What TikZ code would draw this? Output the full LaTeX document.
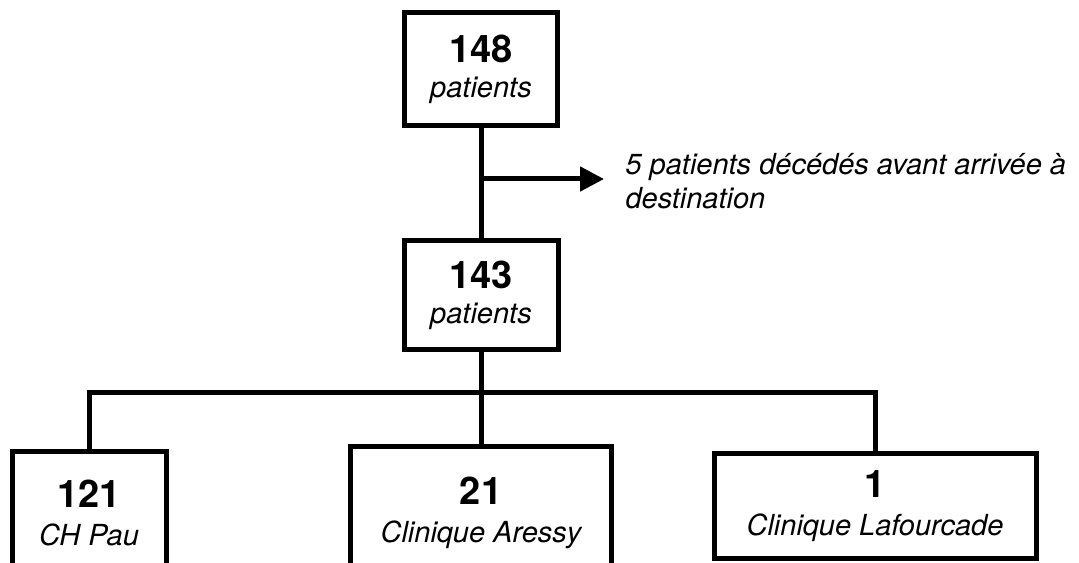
\documentclass[tikz,border=0pt]{standalone}
\usepackage{fontspec}
\setmainfont{TeX Gyre Heros}
\usetikzlibrary{arrows.meta}
\newcommand{\numfont}{\fontsize{28.5pt}{26.25pt}\selectfont\bfseries\upshape}

\begin{document}
\begin{tikzpicture}[x=0.75pt, y=-0.75pt, line width=3.75pt,
  box/.style={draw, rectangle, inner sep=0pt, align=center,
    font=\fontsize{21.75pt}{26.25pt}\selectfont\itshape},
  sitebox/.style={box, font=\fontsize{21.75pt}{28.5pt}\selectfont\itshape}]
\useasboundingbox (0,0) rectangle (1079,563);
\clip (0,0) rectangle (1079,563);
% boxes
\node[box, minimum width=115pt, minimum height=85pt] (start) at (481,69) {{\numfont 148}\\patients};
\node[box, minimum width=115.5pt, minimum height=81pt] (arrived) at (481,295) {{\numfont 143}\\patients};
\node[anchor=west, inner sep=0pt, align=left,
  font=\fontsize{21.75pt}{25.5pt}\selectfont\itshape] (deaths) at (623,181)
  {5 patients décédés avant arrivée à\\destination};
\node[sitebox, minimum width=115.5pt, minimum height=93pt] (pau) at (89,513) {{\numfont 121}\\CH Pau};
\node[sitebox, minimum width=196pt, minimum height=100pt] (aressy) at (481,513) {{\numfont 21}\\Clinique Aressy};
\node[sitebox, minimum width=241.5pt, minimum height=79pt] (lafourcade) at (875,506) {{\numfont 1}\\Clinique Lafourcade};
% connectors
\coordinate (fork) at (481,179);
\coordinate (deathtip) at (604,179);
\coordinate (bus) at (481,392.5);
\draw (start) -- (arrived);
\draw [-{Triangle[length=18pt,width=18pt]}] (fork) -- (deathtip);
\draw (arrived) -- (bus);
\draw (pau.north) |- (bus) -| (lafourcade.north);
\draw (bus) -- (aressy.north);
\end{tikzpicture}
\end{document}
